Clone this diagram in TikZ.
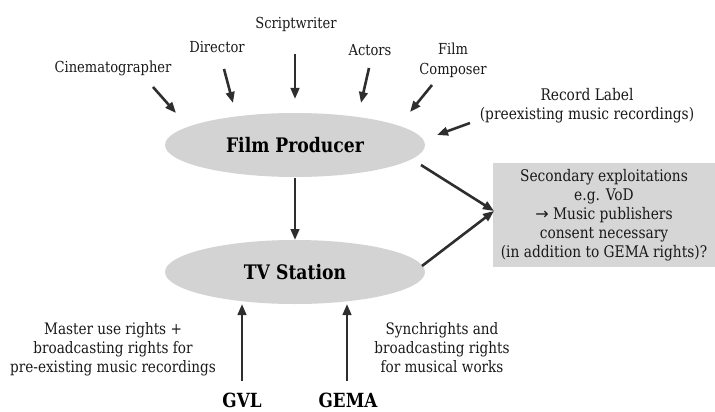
\documentclass[tikz,border=0pt]{standalone}
\usepackage{fontspec}
\setmainfont{DejaVu Serif}[FakeStretch=0.86]
\newfontfamily\arrowfont{DejaVu Sans}
\usetikzlibrary{arrows.meta,shapes.geometric}
\definecolor{arr}{HTML}{2E2E2E}
\definecolor{ellfill}{HTML}{D3D3D3}
\definecolor{boxfill}{HTML}{D6D6D6}
\begin{document}
\begin{tikzpicture}[x=1pt,y=-1pt,
  lbl/.style={font=\fontsize{15.2}{19}\selectfont, align=center, inner sep=0pt, text=black!90},
  big/.style={font=\fontsize{20}{20}\selectfont\bfseries, inner sep=0pt},
  ell/.style={ellipse, fill=ellfill, minimum width=260pt, minimum height=64pt, inner sep=0pt},
  arrw/.style={draw=arr, line width=2.6pt, -{Triangle[length=11pt,width=8.5pt]}, shorten >=0pt}]
\useasboundingbox (0,0) rectangle (715,412);
\node[ell] (fp) at (295,145) {};
\node[big] at (fp.center) {Film Producer};
\node[ell] (tv) at (295,272) {};
\node[big] at (tv.center) {TV Station};
\node[fill=boxfill, minimum width=222pt, minimum height=104pt, inner sep=0pt] (box) at (604,215) {};
\node[lbl, font=\fontsize{16}{19}\selectfont] (boxt) at (box.center) {Secondary exploitations\\e.g. VoD\\{\arrowfont→} Music publishers\\consent necessary\\(in addition to GEMA rights)?};
\node[lbl] (cin) at (113,68) {Cinematographer};
\node[lbl] (dir) at (217,47) {Director};
\node[lbl] (scr) at (296,24) {Scriptwriter};
\node[lbl] (act) at (370,50) {Actors};
\node[lbl, font=\fontsize{15.2}{20}\selectfont] (com) at (453,60) {Film\\Composer};
\node[lbl, font=\fontsize{16}{19}\selectfont] (rec) at (587,106) {Record Label\\(preexisting music recordings)};
\node[lbl, font=\fontsize{15.8}{19}\selectfont] (mas) at (113,349) {Master use rights +\\broadcasting rights for\\pre-existing music recordings};
\node[lbl, font=\fontsize{15.8}{19}\selectfont] (syn) at (442,348) {Synchrights and\\broadcasting rights\\for musical works};
\node[big, font=\fontsize{19.5}{20}\selectfont\bfseries] (gvl) at (242,400) {GVL};
\node[big, font=\fontsize{19.5}{20}\selectfont\bfseries] (gema) at (348,400) {GEMA};
\coordinate (c1s) at (153,87); \coordinate (c1e) at (176,113);
\coordinate (c2s) at (224,69); \coordinate (c2e) at (233,103);
\coordinate (c3s) at (295,54); \coordinate (c3e) at (295,99);
\coordinate (c4s) at (369,68); \coordinate (c4e) at (361,103);
\coordinate (c5s) at (432,85); \coordinate (c5e) at (410,112);
\coordinate (c6s) at (470,123); \coordinate (c6e) at (437,135);
\draw[arrw] (c1s) -- (c1e);
\draw[arrw] (c2s) -- (c2e);
\draw[arrw] (c3s) -- (c3e);
\draw[arrw] (c4s) -- (c4e);
\draw[arrw] (c5s) -- (c5e);
\draw[arrw] (c6s) -- (c6e);
\coordinate (fpb) at (295,178); \coordinate (tvt) at (295,240);
\draw[arrw] (fpb) -- (tvt);
\coordinate (fpr) at (421,165); \coordinate (tvr) at (422,266); \coordinate (bl) at (494,211);
\draw[arrw] (fpr) -- (bl);
\draw[arrw] (tvr) -- (bl);
\coordinate (g1s) at (242,381); \coordinate (g1e) at (242,304);
\coordinate (g2s) at (347,381); \coordinate (g2e) at (347,304);
\draw[arrw] (g1s) -- (g1e);
\draw[arrw] (g2s) -- (g2e);
\end{tikzpicture}
\end{document}
